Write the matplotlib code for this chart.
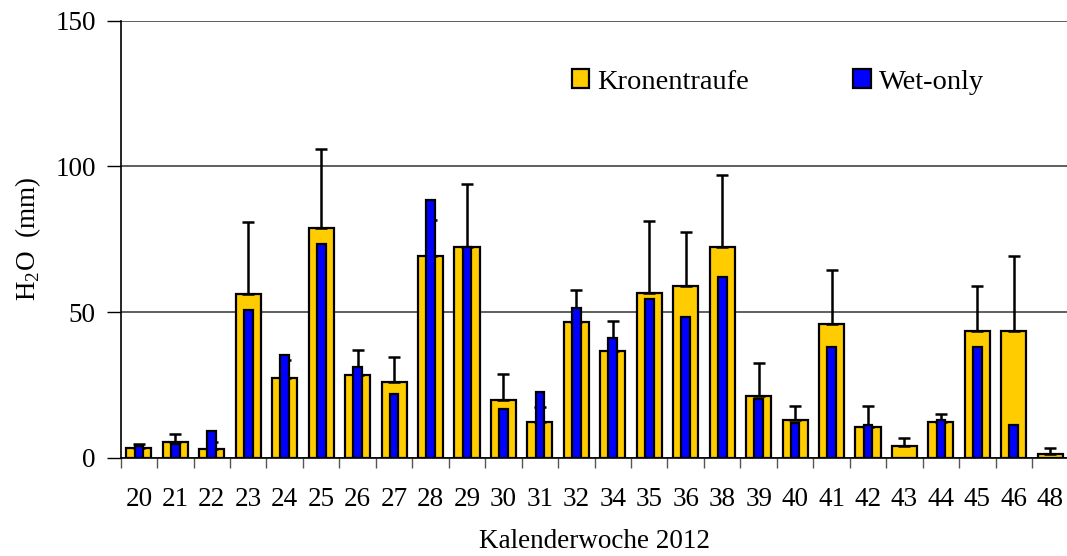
import matplotlib
matplotlib.use("Agg")
import matplotlib.pyplot as plt
import numpy as np
from matplotlib.patches import Patch

weeks = ["20", "21", "22", "23", "24", "25", "26", "27", "28", "29", "30", "31", "32",
         "34", "35", "36", "38", "39", "40", "41", "42", "43", "44", "45", "46", "48"]
kronentraufe = [3.3, 5.4, 3.1, 56.4, 27.6, 79.0, 28.4, 26.0, 69.3, 72.2, 19.9, 12.4, 46.5,
                36.8, 56.7, 59.0, 72.4, 21.2, 13.0, 46.0, 10.6, 4.1, 12.2, 43.7, 43.7, 1.4]
kronentraufe_err = [1.6, 2.8, 2.4, 24.5, 6.0, 27.0, 8.6, 8.5, 12.2, 21.9, 9.0, 5.0, 11.0,
                    10.1, 24.6, 18.4, 24.8, 11.4, 4.7, 18.6, 7.1, 2.6, 2.8, 15.3, 25.7, 2.1]
wet_only = [4.1, 4.7, 9.3, 50.9, 35.4, 73.5, 31.2, 21.9, 88.6, 72.2, 16.7, 22.6, 51.6,
            41.1, 54.6, 48.2, 62.2, 20.2, 11.9, 38.1, 11.3, 0.0, 13.0, 37.9, 11.4, 0.0]

plt.rcParams['font.family'] = ['Liberation Serif', 'DejaVu Serif']
FS = 19.5

fig = plt.figure(figsize=(10.67, 5.56), dpi=100)
ax = fig.add_axes([0.1131, 0.1763, 0.8883, 0.7865])

x = np.arange(len(weeks))
yellow = "#FFCC00"
blue = "#0000FF"

ax.bar(x, kronentraufe, width=0.69, color=yellow, edgecolor="black", linewidth=1.6, zorder=3)
ax.errorbar(x, kronentraufe, yerr=[np.zeros(len(x)), kronentraufe_err], fmt="none",
            ecolor="black", elinewidth=1.8, capsize=4.5, capthick=1.8, zorder=4)
wx = [xi for xi, v in zip(x, wet_only) if v > 0]
wv = [v for v in wet_only if v > 0]
ax.bar(wx, wv, width=0.24, color=blue, edgecolor="black", linewidth=1.6, zorder=5)

ax.set_xlim(-0.5, len(weeks) - 0.5)
ax.set_ylim(0, 150)
ax.set_yticks([0, 50, 100, 150])
ax.set_xticks(x)
ax.set_xticklabels(weeks, fontsize=FS)
ax.set_xticks(np.arange(-0.5, len(weeks), 1.0), minor=True)
ax.tick_params(axis="x", which="major", length=0, pad=21)
ax.tick_params(axis="x", which="minor", length=7, width=1, color="#555555", direction="out")
ax.tick_params(axis="y", labelsize=FS, length=10, width=1, direction="out", pad=8)

ax.yaxis.grid(True, color="#333333", linewidth=1.1, zorder=0)
ax.set_axisbelow(True)
for s in ["top", "right"]:
    ax.spines[s].set_visible(False)
ax.spines["left"].set_linewidth(1.2)
ax.spines["bottom"].set_linewidth(1.2)

ax.set_ylabel("H$_\\mathregular{2}$O  (mm)", fontsize=FS, labelpad=9)
ax.set_xlabel("Kalenderwoche 2012", fontsize=FS, labelpad=12)

handles = [Patch(facecolor=yellow, edgecolor="black", linewidth=1.6, label="Kronentraufe"),
           Patch(facecolor=blue, edgecolor="black", linewidth=1.6, label="Wet-only")]
ax.legend(handles=handles, ncol=2, frameon=False, fontsize=20.5,
          loc="center left", bbox_to_anchor=(0.476, 0.860),
          handlelength=0.62, handleheight=0.62, handletextpad=0.28, columnspacing=3.65,
          borderpad=0.0, borderaxespad=0.0)

fig.savefig("out.png", dpi=100)
